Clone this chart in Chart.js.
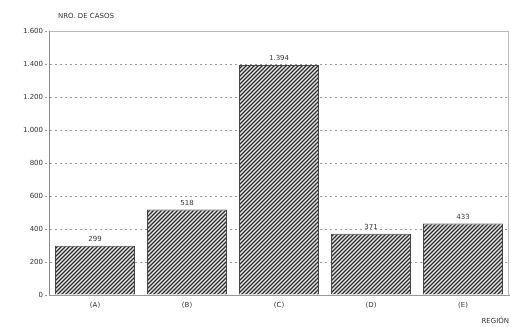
<!DOCTYPE html>
<html><head><meta charset="utf-8">
<script src="https://cdn.jsdelivr.net/npm/chart.js@4"></script>
<style>html,body{margin:0;padding:0;background:#fff}#w{width:511px;height:327px}</style>
</head><body><div id="w"><canvas id="c" width="511" height="327"></canvas></div>
<script>
const categories = ["(A)", "(B)", "(C)", "(D)", "(E)"];
const casos = [299, 518, 1394, 371, 433];
const yTicks = [0, 200, 400, 600, 800, 1000, 1200, 1400, 1600];
const yTitle = "NRO. DE CASOS";
const xTitle = "REGIÓN";

function fmt(v){ return v.toLocaleString('de-DE'); }

function makePattern(){
  const t = document.createElement('canvas');
  t.width = 4; t.height = 4;
  const g = t.getContext('2d');
  g.fillStyle = '#e6e6e6'; g.fillRect(0,0,4,4);
  g.strokeStyle = '#2a2a2a'; g.lineWidth = 1.3;
  g.beginPath();
  g.moveTo(-1,5); g.lineTo(5,-1);
  g.moveTo(-1,1); g.lineTo(1,-1);
  g.moveTo(3,5); g.lineTo(5,3);
  g.stroke();
  return document.getElementById('c').getContext('2d').createPattern(t,'repeat');
}

const textPlugin = {
  id: 'texts',
  afterDatasetsDraw(chart){
    const ctx = chart.ctx, a = chart.chartArea;
    ctx.save();
    ctx.fillStyle = '#333';
    ctx.font = '7px "DejaVu Sans"';
    ctx.textAlign = 'left'; ctx.textBaseline = 'middle';
    ctx.fillText(yTitle, a.left + 9, 16);
    ctx.textAlign = 'right';
    ctx.fillText(xTitle, 509, 321);
    ctx.textAlign = 'center'; ctx.textBaseline = 'bottom';
    const meta = chart.getDatasetMeta(0);
    meta.data.forEach((bar, i) => {
      ctx.fillText(fmt(casos[i]), bar.x, bar.y - 3);
    });
    ctx.restore();
  }
};

new Chart(document.getElementById('c'), {
  type: 'bar',
  data: {
    labels: categories,
    datasets: [{
      data: casos,
      backgroundColor: makePattern(),
      borderColor: '#444',
      borderWidth: 1,
      barPercentage: 0.87,
      categoryPercentage: 1.0
    }]
  },
  options: {
    responsive: false,
    animation: false,
    layout: { padding: { top: 31, right: 2, left: 0, bottom: 0 } },
    plugins: { legend: { display: false }, tooltip: { enabled: false } },
    scales: {
      x: {
        grid: { display: false, drawTicks: false },
        border: { color: '#999', width: 1 },
        ticks: { color: '#333', font: { family: 'DejaVu Sans', size: 7 }, padding: 6, maxRotation: 0 },
        afterFit(s){ s.height = 32; }
      },
      y: {
        min: 0, max: 1600,
        afterBuildTicks(s){ s.ticks = yTicks.map(v => ({ value: v })); },
        grid: { color: '#999', lineWidth: 1, tickLength: 4, drawOnChartArea: true, tickBorderDash: [2,3] },
        border: { color: '#999', width: 1, dash: [2, 3] },
        ticks: { color: '#333', font: { family: 'DejaVu Sans', size: 7 }, padding: 2, callback: v => fmt(v) },
        afterFit(s){ s.width = 49; }
      }
    }
  },
  plugins: [textPlugin, {
    id: 'frame',
    beforeDatasetsDraw(chart){
      const ctx = chart.ctx, a = chart.chartArea;
      ctx.save();
      ctx.strokeStyle = '#bbb'; ctx.lineWidth = 1;
      ctx.beginPath();
      ctx.moveTo(a.left, a.top + 0.5); ctx.lineTo(a.right, a.top + 0.5);
      ctx.moveTo(a.right - 0.5, a.top); ctx.lineTo(a.right - 0.5, a.bottom);
      ctx.stroke();
      ctx.strokeStyle = '#888';
      ctx.beginPath();
      ctx.moveTo(a.left + 0.5, a.top); ctx.lineTo(a.left + 0.5, a.bottom);
      ctx.stroke();
      ctx.restore();
    }
  }]
});
</script></body></html>
